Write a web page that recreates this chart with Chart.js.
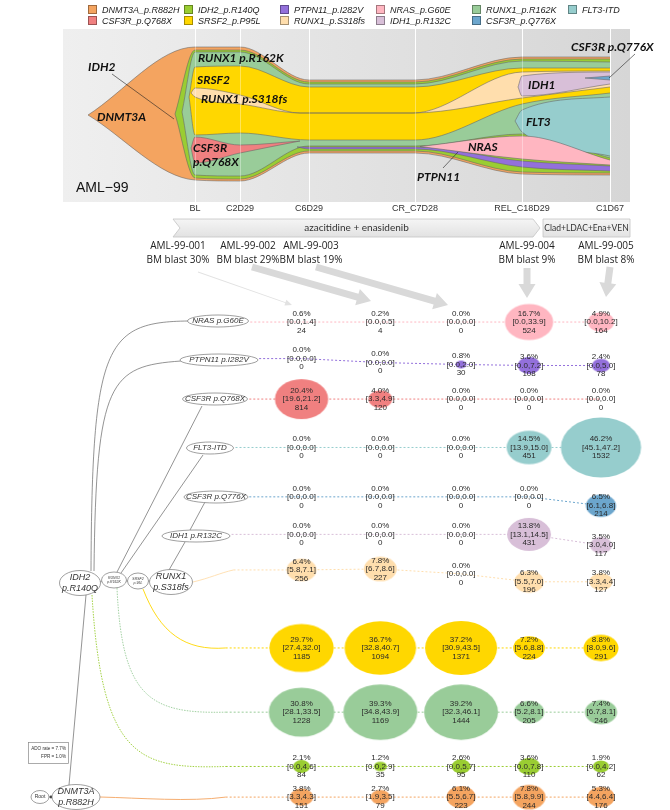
<!DOCTYPE html>
<html>
<head>
<meta charset="utf-8">
<title>AML-99 clonal evolution</title>
<script src="https://cdn.jsdelivr.net/npm/chart.js@4.4.1/dist/chart.umd.min.js"></script>
<style>
  html, body { margin: 0; padding: 0; background: #fff; }
  #page { position: relative; width: 670px; height: 810px; overflow: hidden; }
  #page canvas { position: absolute; left: 0; top: 0; }
  #legend { position: absolute; left: 88px; top: 4px; display: grid;
    grid-template-rows: 11px 11px; grid-auto-flow: column; grid-auto-columns: 96px;
    font: italic 9px "Liberation Sans", Arial, sans-serif; color: #222; }
  #legend span { display: flex; align-items: center; white-space: nowrap; }
  #legend i { width: 7px; height: 7px; border: 1px solid rgba(0,0,0,0.35); margin-right: 5px; }
</style>
</head>
<body>
<div id="page">
  <canvas id="fish" width="670" height="810"></canvas>
  <canvas id="tree" width="670" height="810"></canvas>
  <div id="legend"></div>
</div>
<script>
// ---------- values ----------
const clones = ['DNMT3A p.R882H', 'IDH2 p.R140Q', 'RUNX1 p.R162K', 'SRSF2 p.P95L', 'RUNX1 p.S318fs',
  'IDH1 p.R132C', 'CSF3R p.Q776X', 'FLT3-ITD', 'CSF3R p.Q768X', 'PTPN11 p.I282V', 'NRAS p.G60E'];
const cloneColors = ['#F4A460', '#9ACD32', '#99CC99', '#FFD700', '#FFDEAD',
  '#D8BFD8', '#6CA6CD', '#96CDCD', '#F08080', '#9370DB', '#FFB6C1'];
const legendOrder = ['DNMT3A p.R882H', 'CSF3R p.Q768X', 'IDH2 p.R140Q', 'SRSF2 p.P95L', 'PTPN11 p.I282V',
  'RUNX1 p.S318fs', 'NRAS p.G60E', 'IDH1 p.R132C', 'RUNX1 p.R162K', 'CSF3R p.Q776X', 'FLT3-ITD'];

const timepoints = ['BL', 'C2D29', 'C6D29', 'CR_C7D28', 'REL_C18D29', 'C1D67'];
const timeX = [103, 148, 217, 323, 430, 518];
const treatments = ['azacitidine + enasidenib', 'Clad+LDAC+Ena+VEN'];

const samples = ['AML-99-001', 'AML-99-002', 'AML-99-003', 'AML-99-004', 'AML-99-005'];
const sampleTime = [0, 1, 2, 4, 5];
const blastPct = [30, 29, 19, 9, 8];

// fish plot: clone band, upper / lower edge around the midline at each x
const fishLayers = [
  ['DNMT3A p.R882H', [-4, 103, 148, 217, 323, 430, 518], [0, 68, 68, 35, 35, 58, 58], [0, -65, -66, -38, -38, -59, -60]],
  ['IDH2 p.R140Q',   [83, 103, 148, 217, 323, 430, 518], [1, 65, 65, 33, 33, 56, 56], [1, -63, -64, -36, -36, -57, -58]],
  ['RUNX1 p.R162K',  [90, 103, 148, 217, 323, 430, 518], [3, 63, 63, 31, 31, 54, 53], [3, -60, -61, -31, -31, -19, -43]],
  ['SRSF2 p.P95L',   [97, 103, 148, 217, 323, 430, 518], [18, 48, 49, 28, 28, 47, 47], [18, -20, -18, -25, -25, 11, 22]],
  ['RUNX1 p.S318fs', [99, 103, 148, 208, 321, 430, 518], [22, 27, 20, 2, 2, 43, 44], [22, 18, 11, 2, 2, 17, 28]],
  ['IDH1 p.R132C',   [426, 430, 518], [28, 39, 43], [28, 19, 31]],
  ['CSF3R p.Q776X',  [493, 518], [37, 39], [37, 35]],
  ['FLT3-ITD',       [423, 430, 518], [-6, 5, 18], [-6, -17, -41]],
  ['CSF3R p.Q768X',  [99, 103, 148, 208], [-33, -22, -30, -26], [-33, -48, -38, -26]],
  ['PTPN11 p.I282V', [205, 217, 323, 430, 518], [-32, -32, -32, -46, -51], [-32, -34, -34, -52, -56]],
  ['NRAS p.G60E',    [328, 430, 518], [-31.5, -21, -45], [-31.5, -44, -50]]
];

// single-cell clone fractions per sample (rows top to bottom)
const rowClones = ['NRAS p.G60E', 'PTPN11 p.I282V', 'CSF3R p.Q768X', 'FLT3-ITD', 'CSF3R p.Q776X', 'IDH1 p.R132C',
  'RUNX1 p.S318fs', 'SRSF2 p.P95L', 'RUNX1 p.R162K', 'IDH2 p.R140Q', 'DNMT3A p.R882H'];
const vaf = [
  [0.6, 0.2, 0.0, 16.7, 4.9], [0.0, 0.0, 0.8, 3.6, 2.4], [20.4, 4.0, 0.0, 0.0, 0.0],
  [0.0, 0.0, 0.0, 14.5, 46.2], [0.0, 0.0, 0.0, 0.0, 6.5], [0.0, 0.0, 0.0, 13.8, 3.5],
  [6.4, 7.8, 0.0, 6.3, 3.8], [29.7, 36.7, 37.2, 7.2, 8.8], [30.8, 39.3, 39.2, 6.6, 7.4],
  [2.1, 1.2, 2.6, 3.6, 1.9], [3.8, 2.7, 6.1, 7.8, 5.3]
];
const ciLow = [
  [0.0, 0.0, 0.0, 0.0, 0.0], [0.0, 0.0, 0.0, 0.0, 0.0], [19.6, 3.3, 0.0, 0.0, 0.0],
  [0.0, 0.0, 0.0, 13.9, 45.1], [0.0, 0.0, 0.0, 0.0, 6.1], [0.0, 0.0, 0.0, 13.1, 3.0],
  [5.8, 6.7, 0.0, 5.5, 3.3], [27.4, 32.8, 30.9, 5.6, 8.0], [28.1, 34.8, 32.3, 5.2, 6.7],
  [0.0, 0.0, 0.0, 0.0, 0.0], [3.3, 1.9, 5.5, 5.8, 4.4]
];
const ciHigh = [
  [1.4, 0.5, 0.0, 33.9, 10.2], [0.0, 0.0, 2.0, 7.2, 5.0], [21.2, 4.9, 0.0, 0.0, 0.0],
  [0.0, 0.0, 0.0, 15.0, 47.2], [0.0, 0.0, 0.0, 0.0, 6.8], [0.0, 0.0, 0.0, 14.5, 4.0],
  [7.1, 8.6, 0.0, 7.0, 4.4], [32.0, 40.7, 43.5, 8.8, 9.6], [33.5, 43.9, 46.1, 8.1, 8.1],
  [4.6, 2.9, 5.7, 7.8, 4.2], [4.3, 3.5, 6.7, 9.9, 6.4]
];
const cellCount = [
  [24, 4, 0, 524, 164], [0, 0, 30, 108, 78], [814, 120, 0, 0, 0],
  [0, 0, 0, 451, 1532], [0, 0, 0, 0, 214], [0, 0, 0, 431, 117],
  [256, 227, 0, 196, 127], [1185, 1094, 1371, 224, 291], [1228, 1169, 1444, 205, 246],
  [84, 35, 95, 110, 62], [151, 79, 223, 244, 176]
];

// ---------- layout ----------
const colX = [301, 381, 463, 532, 605];
const rowY = [321, 360, 399, 448, 497, 536, 582, 651, 716, 771, 802];
const rowDrift = [[0, 0, 0, 0, 0], [-2, 2, 4, 5, 5], [0, 0, 0, 0, 0], [0, 0, 0, 0, 0], [1, 1, 1, 1, 10],
  [0, 0, 0, 0, 11], [-10, -11, -6, 2, 2], [0, 0, 0, 0, 0], [0, 0, 0, 0, 0], [0, 0, 0, 0, 0], [0, 0, 0, 0, 0]];
const rowStartX = [249, 258, 248, 234, 248, 230, 232, 224, 224, 224, 224];
const rowLabelBox = [[218, 61], [219, 78], [215, 65], [210, 47], [216, 64], [196, 68]];
const sampleDx = [-17, 8, 2, 5, -4];
const minCells = 25;   // bubbles under this cell count are not drawn in the source

const colorOf = name => cloneColors[clones.indexOf(name)];

function ellipseImage(color, rx, ry) {
  const c = document.createElement('canvas');
  c.width = Math.ceil(rx * 2) + 2;
  c.height = Math.ceil(ry * 2) + 2;
  const g = c.getContext('2d');
  g.fillStyle = color;
  g.beginPath();
  g.ellipse(c.width / 2, c.height / 2, rx, ry, 0, 0, Math.PI * 2);
  g.fill();
  return c;
}

function drawArrow(ctx, x0, y0, x1, y1, shaft, headW, headL, color) {
  const ang = Math.atan2(y1 - y0, x1 - x0);
  const len = Math.hypot(x1 - x0, y1 - y0);
  ctx.save();
  ctx.translate(x0, y0);
  ctx.rotate(ang);
  ctx.fillStyle = color;
  ctx.beginPath();
  ctx.moveTo(0, -shaft / 2);
  ctx.lineTo(len - headL, -shaft / 2);
  ctx.lineTo(len - headL, -headW / 2);
  ctx.lineTo(len, 0);
  ctx.lineTo(len - headL, headW / 2);
  ctx.lineTo(len - headL, shaft / 2);
  ctx.lineTo(0, shaft / 2);
  ctx.closePath();
  ctx.fill();
  ctx.restore();
}

// legend
const legendBox = document.getElementById('legend');
legendOrder.forEach(name => {
  const s = document.createElement('span');
  s.innerHTML = `<i style="background:${colorOf(name)}"></i>${name.replace(' ', '_')}`;
  legendBox.appendChild(s);
});

// ==========================================
// FISH PLOT
// ==========================================
const fishNotes = [
  { t: 'IDH2', x: -4, y: 48 }, { t: 'DNMT3A', x: 5, y: -2 },
  { t: 'RUNX1 p.R162K', x: 106, y: 57 }, { t: 'SRSF2', x: 105, y: 35 },
  { t: 'RUNX1 p.S318fs', x: 109, y: 16 }, { t: 'CSF3R', x: 101, y: -33 }, { t: 'p.Q768X', x: 101, y: -47 },
  { t: 'CSF3R p.Q776X', x: 479, y: 68 }, { t: 'IDH1', x: 436, y: 30 }, { t: 'FLT3', x: 434, y: -7 },
  { t: 'NRAS', x: 376, y: -32 }, { t: 'PTPN11', x: 325, y: -62 }
];
const fishLeaders = [[[20, 41], [82, -4]], [[543, 61], [517, 37]], [[351, -53], [366, -37]]];

const fishDatasets = [];
fishLayers.forEach(([name, xs, up, low], k) => {
  const idx = fishDatasets.length;
  const common = {
    borderColor: 'rgba(100,100,100,0.8)', borderWidth: 0.7, pointRadius: 0,
    cubicInterpolationMode: 'monotone'
  };
  fishDatasets.push({ ...common, label: name, data: xs.map((x, i) => ({ x, y: up[i] })),
    backgroundColor: colorOf(name), fill: idx + 1, order: 1000 - 2 * k });
  fishDatasets.push({ ...common, label: name + ' low', data: xs.map((x, i) => ({ x, y: low[i] })),
    fill: false, order: 999 - 2 * k });
});

const fishDecor = {
  id: 'fishDecor',
  beforeDatasetsDraw(chart) {
    const { ctx, chartArea: a, scales: { x } } = chart;
    ctx.save();
    const g = ctx.createLinearGradient(a.left, 0, a.right, 0);
    g.addColorStop(0, '#efefef');
    g.addColorStop(1, '#d6d6d6');
    ctx.fillStyle = g;
    ctx.fillRect(a.left, a.top, a.right - a.left, a.bottom - a.top);
    ctx.strokeStyle = '#fff';
    ctx.lineWidth = 1;
    timeX.forEach(t => {
      const px = Math.round(x.getPixelForValue(t)) + 0.5;
      ctx.beginPath(); ctx.moveTo(px, a.top); ctx.lineTo(px, a.bottom); ctx.stroke();
    });
    ctx.restore();
  },
  afterDatasetsDraw(chart) {
    const { ctx, chartArea: a, scales: { x, y } } = chart;
    ctx.save();
    ctx.strokeStyle = 'rgba(255,255,255,0.35)';
    ctx.lineWidth = 1;
    timeX.forEach(t => {
      const px = Math.round(x.getPixelForValue(t)) + 0.5;
      ctx.beginPath(); ctx.moveTo(px, a.top); ctx.lineTo(px, a.bottom); ctx.stroke();
    });
    ctx.strokeStyle = '#222';
    ctx.lineWidth = 0.6;
    fishLeaders.forEach(([p, q]) => {
      ctx.beginPath();
      ctx.moveTo(x.getPixelForValue(p[0]), y.getPixelForValue(p[1]));
      ctx.lineTo(x.getPixelForValue(q[0]), y.getPixelForValue(q[1]));
      ctx.stroke();
    });
    ctx.fillStyle = '#111';
    ctx.font = 'italic bold 12px Lato';
    ctx.textBaseline = 'middle';
    ctx.textAlign = 'left';
    fishNotes.forEach(n => ctx.fillText(n.t, x.getPixelForValue(n.x), y.getPixelForValue(n.y)));
    ctx.font = '14px "Liberation Sans"';
    ctx.fillText('AML\u221299', x.getPixelForValue(-16), y.getPixelForValue(-73));
    ctx.restore();
  },
  afterDraw(chart) {
    const { ctx, chartArea: a, scales: { x } } = chart;
    ctx.save();
    // timepoint labels
    ctx.fillStyle = '#333';
    ctx.font = '9px "Liberation Sans"';
    ctx.textAlign = 'center';
    ctx.textBaseline = 'middle';
    timepoints.forEach((t, i) => ctx.fillText(t, x.getPixelForValue(timeX[i]), 209));
    // treatment bar
    const x0 = x.getPixelForValue(timeX[0]) - 22, x1 = x.getPixelForValue(timeX[4]) + 18, x2 = a.right;
    const top = 219, bot = 237, mid = (top + bot) / 2;
    const g = ctx.createLinearGradient(0, top, 0, bot);
    g.addColorStop(0, '#f5f5f5');
    g.addColorStop(1, '#e2e2e2');
    ctx.fillStyle = g;
    ctx.strokeStyle = '#c4c4c4';
    ctx.lineWidth = 0.8;
    ctx.beginPath();
    ctx.moveTo(x0, top); ctx.lineTo(x1 - 7, top); ctx.lineTo(x1, mid); ctx.lineTo(x1 - 7, bot);
    ctx.lineTo(x0, bot); ctx.lineTo(x0 + 7, mid); ctx.closePath();
    ctx.fill(); ctx.stroke();
    ctx.beginPath();
    ctx.rect(x1 + 3, top, x2 - x1 - 3, bot - top);
    ctx.fill(); ctx.stroke();
    ctx.fillStyle = '#333';
    ctx.font = '10px Lato';
    ctx.fillText(treatments[0], (x0 + x1) / 2, mid);
    ctx.font = '8.5px Lato';
    ctx.fillText(treatments[1], (x1 + 3 + x2) / 2, mid);
    // sample labels
    ctx.font = '10px "Open Sans"';
    ctx.fillStyle = '#222';
    samples.forEach((s, j) => {
      const cx = x.getPixelForValue(timeX[sampleTime[j]]) + sampleDx[j];
      ctx.fillText(s, cx, 246);
      ctx.fillText(`BM blast ${blastPct[j]}%`, cx, 260);
    });
    ctx.restore();
  }
};

let fishChart, treeChart;

// ==========================================
// SINGLE-CELL CLONE TREE + BUBBLES
// ==========================================
const treeNodes = [
  { lines: ['RUNX1', 'p.S318fs'], x: 171, y: 582, w: 43, h: 25, size: 9 },
  { lines: ['SRSF2', 'p.95L'], x: 138, y: 581, w: 21, h: 16, size: 3.5 },
  { lines: ['RUNX1', 'p.R162K'], x: 114, y: 580, w: 25, h: 16, size: 3.5 },
  { lines: ['IDH2', 'p.R140Q'], x: 80, y: 583, w: 41, h: 25, size: 9 },
  { lines: ['DNMT3A', 'p.R882H'], x: 76, y: 797, w: 48, h: 25, size: 9 },
  { lines: ['Root'], x: 40, y: 797, w: 18, h: 13, size: 5, upright: true }
];
const treeEdges = [
  [[49, 797], [52, 797]], [[69, 785], [86, 595]],
  [[100, 582], [102, 581]], [[126, 581], [128, 581]], [[148, 581], [150, 581]],
  [[117, 572], [202, 406]], [[121, 573], [203, 455]],
  [[169, 570], [185, 542]], [[190, 530], [205, 502]]
];
const treeCurves = [
  [[91, 571], [92, 345], [105, 322], [188, 321]],
  [[94, 571], [96, 380], [110, 366], [181, 361]]
];
const leadIns = [
  { row: 6, pts: [[193, 582], [210, 578], [220, 573]], dash: [] },
  { row: 7, pts: [[143, 589], [160, 633], [185, 651]], dash: [] },
  { row: 8, pts: [[117, 588], [122, 698], [150, 714]], dash: [1.5, 1.2] },
  { row: 9, pts: [[92, 595], [102, 760], [140, 769]], dash: [1.5, 1.2] },
  { row: 10, pts: [[100, 797], [140, 798], [190, 802]], dash: [] }
];
const arrowFrom = [[20, 272], [4, 267], [5, 267], [0, 268], [4, 267]];
const arrowTo = [[-9, 305], [-10, 301], [-15, 305], [-5, 298], [1, 297]];

const bubbleSets = rowClones.map((name, r) => {
  const color = colorOf(name);
  const pts = [{ x: rowStartX[r], y: rowY[r] + rowDrift[r][0], img: null }];
  vaf[r].forEach((v, j) => {
    const rx = 5.9 * Math.sqrt(v);
    const shown = v > 0 && cellCount[r][j] >= minCells;
    pts.push({ x: colX[j], y: rowY[r] + rowDrift[r][j], img: shown ? ellipseImage(color, rx, rx * 0.75) : null });
  });
  return {
    label: name, data: pts, borderColor: color, borderWidth: 1, borderDash: [2, 2], fill: false,
    pointStyle: c => (c.raw && c.raw.img) ? c.raw.img : 'circle',
    pointRadius: c => (c.raw && c.raw.img) ? 3 : 0,
    clip: false
  };
});

function nodeEllipse(ctx, cx, cy, w, h, lines, size, upright) {
  ctx.beginPath();
  ctx.ellipse(cx, cy, w / 2, h / 2, 0, 0, Math.PI * 2);
  ctx.fillStyle = '#fff';
  ctx.fill();
  ctx.strokeStyle = '#777';
  ctx.lineWidth = 0.7;
  ctx.stroke();
  ctx.fillStyle = '#333';
  ctx.font = `${upright ? '' : 'italic '}${size}px "Liberation Sans"`;
  ctx.textAlign = 'center';
  ctx.textBaseline = 'middle';
  lines.forEach((t, k) => ctx.fillText(t, cx, cy + (k - (lines.length - 1) / 2) * size * 1.2));
}

const treeDecor = {
  id: 'treeDecor',
  beforeDatasetsDraw(chart) {
    const ctx = chart.ctx;
    ctx.save();
    // sample arrows
    samples.forEach((s, j) => {
      const lx = fishChart.scales.x.getPixelForValue(timeX[sampleTime[j]]) + sampleDx[j];
      const x0 = lx + arrowFrom[j][0], y0 = arrowFrom[j][1];
      const x1 = colX[j] + arrowTo[j][0], y1 = arrowTo[j][1];
      if (j === 0) drawArrow(ctx, x0, y0, x1, y1, 0.8, 6, 7, '#e2e2e2');
      else drawArrow(ctx, x0, y0, x1, y1, 7, 17, 14, '#d9d9d9');
    });
    // tree edges
    ctx.strokeStyle = '#666';
    ctx.lineWidth = 0.7;
    treeEdges.forEach(([p, q]) => {
      ctx.beginPath(); ctx.moveTo(p[0], p[1]); ctx.lineTo(q[0], q[1]); ctx.stroke();
    });
    treeCurves.forEach(c => {
      ctx.beginPath(); ctx.moveTo(c[0][0], c[0][1]);
      ctx.bezierCurveTo(c[1][0], c[1][1], c[2][0], c[2][1], c[3][0], c[3][1]);
      ctx.stroke();
    });
    ctx.fillStyle = '#444';
    ctx.beginPath(); ctx.arc(51, 797, 1.4, 0, Math.PI * 2); ctx.fill();
    // lead-in curves from tree nodes to the dotted rows
    leadIns.forEach(({ row, pts, dash }) => {
      const first = chart.getDatasetMeta(row).data[0];
      ctx.strokeStyle = colorOf(rowClones[row]);
      ctx.lineWidth = 0.9;
      ctx.setLineDash(dash);
      ctx.beginPath(); ctx.moveTo(pts[0][0], pts[0][1]);
      ctx.bezierCurveTo(pts[1][0], pts[1][1], pts[2][0], pts[2][1], first.x, first.y);
      ctx.stroke();
    });
    ctx.setLineDash([]);
    // row labels
    rowLabelBox.forEach(([cx, w], r) => nodeEllipse(ctx, cx, rowY[r], w, 12, [rowClones[r]], 8));
    treeNodes.forEach(n => nodeEllipse(ctx, n.x, n.y, n.w, n.h, n.lines, n.size, n.upright));
    // ADO / FPR box
    ctx.strokeStyle = '#888';
    ctx.lineWidth = 0.7;
    ctx.strokeRect(28.5, 742.5, 40, 21);
    ctx.fillStyle = '#333';
    ctx.font = '4.6px "Liberation Sans"';
    ctx.textAlign = 'right';
    ctx.fillText('ADO rate = 7.7%', 66, 749);
    ctx.fillText('FPR = 1.0%', 66, 757);
    ctx.restore();
  },
  afterDatasetsDraw(chart) {
    const ctx = chart.ctx;
    ctx.save();
    ctx.fillStyle = '#2a2a2a';
    ctx.font = '8px "Liberation Sans"';
    ctx.textAlign = 'center';
    ctx.textBaseline = 'middle';
    rowClones.forEach((name, r) => {
      const pts = chart.getDatasetMeta(r).data;
      vaf[r].forEach((v, j) => {
        const el = pts[j + 1];
        ctx.fillText(`${v.toFixed(1)}%`, el.x, el.y - 8.5);
        ctx.fillText(`[${ciLow[r][j].toFixed(1)},${ciHigh[r][j].toFixed(1)}]`, el.x, el.y);
        ctx.fillText(String(cellCount[r][j]), el.x, el.y + 8.5);
      });
    });
    ctx.restore();
  }
};

function build() {
  fishChart = new Chart(document.getElementById('fish'), {
    type: 'line',
    data: { datasets: fishDatasets },
    options: {
      responsive: false, animation: false, events: [],
      layout: { padding: { left: 63, right: 40, top: 29, bottom: 608 } },
      scales: {
        x: { type: 'linear', min: -29, max: 538, display: false },
        y: { type: 'linear', min: -87, max: 86, display: false }
      },
      plugins: { legend: { display: false }, tooltip: { enabled: false } }
    },
    plugins: [fishDecor]
  });

  treeChart = new Chart(document.getElementById('tree'), {
    type: 'line',
    data: { datasets: bubbleSets },
    options: {
      responsive: false, animation: false, events: [],
      layout: { padding: 0 },
      scales: {
        x: { type: 'linear', min: 0, max: 670, display: false },
        y: { type: 'linear', min: 0, max: 810, reverse: true, display: false }
      },
      plugins: { legend: { display: false }, tooltip: { enabled: false } }
    },
    plugins: [treeDecor]
  });
}

Promise.all([
  document.fonts.load('italic bold 12px Lato'),
  document.fonts.load('10px Lato'),
  document.fonts.load('10px "Open Sans"'),
  document.fonts.load('8px "Liberation Sans"'),
  document.fonts.load('italic 8px "Liberation Sans"')
]).catch(() => {}).then(build);
</script>
</body>
</html>
